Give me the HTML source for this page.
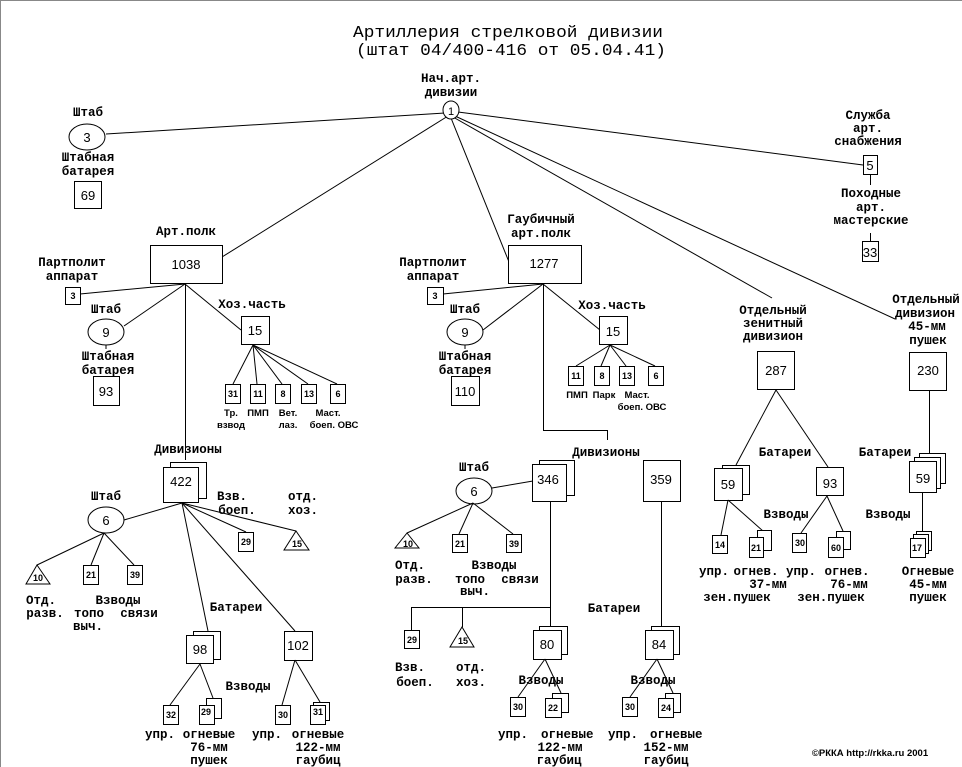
<!DOCTYPE html>
<html><head><meta charset="utf-8"><style>
html,body{margin:0;padding:0;background:#fff}
svg{display:block}
.l{font:bold 12.5px "Liberation Mono","DejaVu Sans Mono",monospace;text-anchor:middle;fill:#000}
.n{font:13px "Liberation Sans",sans-serif;text-anchor:middle;fill:#000}
.s{font:bold 9px "Liberation Sans",sans-serif;text-anchor:middle;fill:#000}
.t{font:17px "Liberation Mono",monospace;text-anchor:middle;fill:#000}
rect,ellipse,circle,polygon{fill:#fff;stroke:#000;stroke-width:1}
line,polyline{stroke:#000;stroke-width:1;fill:none}
</style></head><body>
<svg width="962" height="767" viewBox="0 0 962 767" xmlns="http://www.w3.org/2000/svg">
<rect x="0" y="0" width="962" height="767" style="fill:#fff;stroke:none"/>
<line x1="0" y1="0.5" x2="962" y2="0.5" style="stroke:#888"/>
<line x1="0.5" y1="0" x2="0.5" y2="767" style="stroke:#888"/>

<text class="t" x="508" y="37" textLength="310" lengthAdjust="spacingAndGlyphs">Артиллерия стрелковой дивизии</text>
<text class="t" x="511" y="55" textLength="310" lengthAdjust="spacingAndGlyphs">(штат 04/400-416 от 05.04.41)</text>

<line x1="445" y1="113" x2="106" y2="134"/>
<line x1="458" y1="112" x2="863" y2="165"/>
<line x1="448" y1="116" x2="222" y2="257"/>
<line x1="451" y1="118" x2="509" y2="262"/>
<line x1="453" y1="117" x2="772" y2="298"/>
<line x1="455" y1="116" x2="895" y2="319"/>

<text class="l" x="451" y="82">Нач.арт.</text>
<text class="l" x="451" y="96">дивизии</text>
<ellipse cx="451" cy="110" rx="8" ry="9"/>
<text class="n" x="451" y="115" style="font-size:11px">1</text>

<text class="l" x="88" y="116">Штаб</text>
<ellipse cx="87" cy="137" rx="18" ry="13"/>
<text class="n" x="87" y="142">3</text>
<text class="l" x="88" y="161">Штабная</text>
<text class="l" x="88" y="175">батарея</text>
<rect x="74.5" y="181.5" width="27" height="27"/>
<text class="n" x="88" y="200">69</text>

<text class="l" x="868" y="119">Служба</text>
<text class="l" x="868" y="132">арт.</text>
<text class="l" x="868" y="145">снабжения</text>
<rect x="863.5" y="155.5" width="14" height="19"/>
<text class="n" x="870" y="170">5</text>
<line x1="870.5" y1="175" x2="870.5" y2="185"/>
<text class="l" x="871" y="197">Походные</text>
<text class="l" x="871" y="211">арт.</text>
<text class="l" x="871" y="224">мастерские</text>
<line x1="870.5" y1="233" x2="870.5" y2="241"/>
<rect x="862.5" y="241.5" width="16" height="20"/>
<text class="n" x="870" y="257">33</text>

<text class="l" x="186" y="235">Арт.полк</text>
<rect x="150.5" y="245.5" width="72" height="38"/>
<text class="n" x="186" y="269">1038</text>
<text class="l" x="72" y="266">Партполит</text>
<text class="l" x="72" y="280">аппарат</text>
<rect x="65.5" y="287.5" width="15" height="17"/>
<text class="s" x="73" y="299">3</text>
<line x1="80" y1="294" x2="185" y2="284"/>
<text class="l" x="106" y="313">Штаб</text>
<ellipse cx="106" cy="332" rx="18" ry="13"/>
<text class="n" x="106" y="337">9</text>
<line x1="124" y1="326" x2="185" y2="284"/>
<line x1="106" y1="345" x2="106" y2="349"/>
<text class="l" x="108" y="360">Штабная</text>
<text class="l" x="108" y="374">батарея</text>
<rect x="93.5" y="376.5" width="26" height="29"/>
<text class="n" x="106" y="396">93</text>
<text class="l" x="252" y="308">Хоз.часть</text>
<line x1="185" y1="284" x2="241" y2="330"/>
<rect x="241.5" y="316.5" width="28" height="28"/>
<text class="n" x="255" y="335">15</text>
<line x1="253" y1="345" x2="233" y2="384"/>
<line x1="253" y1="345" x2="257" y2="384"/>
<line x1="253" y1="345" x2="282" y2="384"/>
<line x1="253" y1="345" x2="308" y2="384"/>
<line x1="253" y1="345" x2="337" y2="384"/>
<rect x="225.5" y="384.5" width="15" height="19"/><text class="s" x="233" y="397">31</text>
<rect x="250.5" y="384.5" width="15" height="19"/><text class="s" x="258" y="397">11</text>
<rect x="275.5" y="384.5" width="15" height="19"/><text class="s" x="283" y="397">8</text>
<rect x="301.5" y="384.5" width="15" height="19"/><text class="s" x="309" y="397">13</text>
<rect x="330.5" y="384.5" width="15" height="19"/><text class="s" x="338" y="397">6</text>
<text class="s" x="231" y="416" style="font-size:9.5px">Тр.</text>
<text class="s" x="231" y="428" style="font-size:9.5px">взвод</text>
<text class="s" x="258" y="416" style="font-size:9.5px">ПМП</text>
<text class="s" x="288" y="416" style="font-size:9.5px">Вет.</text>
<text class="s" x="288" y="428" style="font-size:9.5px">лаз.</text>
<text class="s" x="328" y="416" style="font-size:9.5px">Маст.</text>
<text class="s" x="334" y="428" style="font-size:9.5px">боеп. ОВС</text>
<line x1="185.5" y1="284" x2="185.5" y2="460"/>

<text class="l" x="188" y="453">Дивизионы</text>
<rect x="170.5" y="462.5" width="36" height="36"/>
<rect x="163.5" y="467.5" width="35" height="35"/>
<text class="n" x="181" y="486">422</text>
<text class="l" x="106" y="500">Штаб</text>
<ellipse cx="106" cy="520" rx="18" ry="13"/>
<text class="n" x="106" y="525">6</text>
<line x1="124" y1="520" x2="182" y2="503"/>
<text class="l" x="232" y="500">Взв.</text>
<text class="l" x="237" y="514">боеп.</text>
<text class="l" x="303" y="500">отд.</text>
<text class="l" x="303" y="514">хоз.</text>
<line x1="182" y1="503" x2="246" y2="532"/>
<line x1="182" y1="503" x2="296" y2="531"/>
<rect x="238.5" y="532.5" width="15" height="19"/><text class="s" x="246" y="545">29</text>
<polygon points="296,531 284,550 309,550"/><text class="s" x="297" y="547">15</text>
<line x1="104" y1="533" x2="37" y2="565"/>
<line x1="104" y1="533" x2="91" y2="565"/>
<line x1="104" y1="533" x2="134" y2="565"/>
<polygon points="37,565 26,584 50,584"/><text class="s" x="38" y="581">10</text>
<rect x="83.5" y="565.5" width="15" height="19"/><text class="s" x="91" y="578">21</text>
<rect x="127.5" y="565.5" width="15" height="19"/><text class="s" x="135" y="578">39</text>
<text class="l" x="41" y="604">Отд.</text>
<text class="l" x="45" y="617">разв.</text>
<text class="l" x="118" y="604">Взводы</text>
<text class="l" x="89" y="617">топо</text>
<text class="l" x="139" y="617">связи</text>
<text class="l" x="88" y="630">выч.</text>
<line x1="182" y1="503" x2="208" y2="631"/>
<line x1="182" y1="503" x2="295" y2="631"/>
<text class="l" x="236" y="611">Батареи</text>
<rect x="193.5" y="631.5" width="27" height="28"/>
<rect x="186.5" y="635.5" width="27" height="28"/>
<text class="n" x="200" y="654">98</text>
<rect x="284.5" y="631.5" width="28" height="29"/>
<text class="n" x="298" y="650">102</text>
<text class="l" x="248" y="690">Взводы</text>
<line x1="200" y1="664" x2="170" y2="705"/>
<line x1="200" y1="664" x2="213" y2="698"/>
<rect x="163.5" y="705.5" width="15" height="19"/><text class="s" x="171" y="718">32</text>
<rect x="206.5" y="698.5" width="15" height="20"/>
<rect x="199.5" y="705.5" width="15" height="19"/><text class="s" x="206" y="715">29</text>
<line x1="295" y1="660" x2="282" y2="705"/>
<line x1="295" y1="660" x2="320" y2="702"/>
<rect x="275.5" y="705.5" width="15" height="19"/><text class="s" x="283" y="718">30</text>
<rect x="313.5" y="702.5" width="16" height="18"/>
<rect x="310.5" y="705.5" width="15" height="19"/><text class="s" x="318" y="715">31</text>
<text class="l" x="160" y="738">упр.</text>
<text class="l" x="209" y="738">огневые</text>
<text class="l" x="209" y="751">76-мм</text>
<text class="l" x="209" y="764">пушек</text>
<text class="l" x="267" y="738">упр.</text>
<text class="l" x="318" y="738">огневые</text>
<text class="l" x="318" y="751">122-мм</text>
<text class="l" x="318" y="764">гаубиц</text>

<text class="l" x="541" y="223">Гаубичный</text>
<text class="l" x="541" y="237">арт.полк</text>
<rect x="508.5" y="245.5" width="73" height="38"/>
<text class="n" x="544" y="268">1277</text>
<text class="l" x="433" y="266">Партполит</text>
<text class="l" x="433" y="280">аппарат</text>
<rect x="427.5" y="287.5" width="16" height="17"/>
<text class="s" x="435" y="299">3</text>
<line x1="443" y1="294" x2="543" y2="284"/>
<text class="l" x="465" y="313">Штаб</text>
<ellipse cx="465" cy="332" rx="18" ry="13"/>
<text class="n" x="465" y="337">9</text>
<line x1="483" y1="330" x2="543" y2="284"/>
<line x1="465" y1="345" x2="465" y2="349"/>
<text class="l" x="465" y="360">Штабная</text>
<text class="l" x="465" y="374">батарея</text>
<rect x="451.5" y="376.5" width="28" height="29"/>
<text class="n" x="465" y="396">110</text>
<text class="l" x="612" y="309">Хоз.часть</text>
<line x1="543" y1="284" x2="600" y2="330"/>
<rect x="599.5" y="316.5" width="28" height="28"/>
<text class="n" x="613" y="336">15</text>
<line x1="610" y1="345" x2="576" y2="366"/>
<line x1="610" y1="345" x2="601" y2="366"/>
<line x1="610" y1="345" x2="626" y2="366"/>
<line x1="610" y1="345" x2="655" y2="366"/>
<rect x="568.5" y="366.5" width="15" height="19"/><text class="s" x="576" y="379">11</text>
<rect x="594.5" y="366.5" width="15" height="19"/><text class="s" x="602" y="379">8</text>
<rect x="619.5" y="366.5" width="15" height="19"/><text class="s" x="627" y="379">13</text>
<rect x="648.5" y="366.5" width="15" height="19"/><text class="s" x="656" y="379">6</text>
<text class="s" x="577" y="398" style="font-size:9.5px">ПМП</text>
<text class="s" x="604" y="398" style="font-size:9.5px">Парк</text>
<text class="s" x="637" y="398" style="font-size:9.5px">Маст.</text>
<text class="s" x="642" y="410" style="font-size:9.5px">боеп. ОВС</text>
<polyline points="543.5,284 543.5,430.5 607.5,430.5 607.5,440"/>
<text class="l" x="606" y="456">Дивизионы</text>

<rect x="539.5" y="460.5" width="35" height="35"/>
<rect x="532.5" y="464.5" width="34" height="37"/>
<text class="n" x="548" y="484">346</text>
<text class="l" x="474" y="471">Штаб</text>
<ellipse cx="474" cy="491" rx="18" ry="13"/>
<text class="n" x="474" y="496">6</text>
<line x1="492" y1="488" x2="533" y2="481"/>
<line x1="473" y1="503" x2="407" y2="533"/>
<line x1="473" y1="503" x2="459" y2="534"/>
<line x1="473" y1="503" x2="513" y2="534"/>
<polygon points="407,533 395,548 419,548"/><text class="s" x="408" y="547">10</text>
<rect x="452.5" y="534.5" width="15" height="18"/><text class="s" x="460" y="547">21</text>
<rect x="506.5" y="534.5" width="15" height="18"/><text class="s" x="514" y="547">39</text>
<text class="l" x="410" y="569">Отд.</text>
<text class="l" x="414" y="583">разв.</text>
<text class="l" x="494" y="569">Взводы</text>
<text class="l" x="470" y="583">топо</text>
<text class="l" x="520" y="583">связи</text>
<text class="l" x="475" y="595">выч.</text>
<line x1="550.5" y1="502" x2="550.5" y2="630"/>
<line x1="411" y1="607.5" x2="551" y2="607.5"/>
<line x1="411.5" y1="607" x2="411.5" y2="630"/>
<line x1="462.5" y1="607" x2="462.5" y2="627"/>
<rect x="404.5" y="630.5" width="15" height="18"/><text class="s" x="412" y="643">29</text>
<polygon points="462,627 450,647 474,647"/><text class="s" x="463" y="644">15</text>
<text class="l" x="410" y="671">Взв.</text>
<text class="l" x="415" y="686">боеп.</text>
<text class="l" x="471" y="671">отд.</text>
<text class="l" x="471" y="686">хоз.</text>
<text class="l" x="614" y="612">Батареи</text>
<rect x="539.5" y="626.5" width="28" height="28"/>
<rect x="533.5" y="630.5" width="28" height="29"/>
<text class="n" x="547" y="649">80</text>
<rect x="643.5" y="460.5" width="37" height="41"/>
<text class="n" x="661" y="484">359</text>
<line x1="661.5" y1="502" x2="661.5" y2="630"/>
<rect x="651.5" y="626.5" width="28" height="28"/>
<rect x="645.5" y="630.5" width="28" height="29"/>
<text class="n" x="659" y="649">84</text>
<line x1="545" y1="659" x2="518" y2="697"/>
<line x1="545" y1="659" x2="561" y2="693"/>
<text class="l" x="541" y="684">Взводы</text>
<rect x="510.5" y="697.5" width="15" height="19"/><text class="s" x="518" y="710">30</text>
<rect x="552.5" y="693.5" width="16" height="19"/>
<rect x="545.5" y="698.5" width="16" height="19"/><text class="s" x="553" y="711">22</text>
<line x1="657" y1="659" x2="630" y2="697"/>
<line x1="657" y1="659" x2="673" y2="693"/>
<text class="l" x="653" y="684">Взводы</text>
<rect x="622.5" y="697.5" width="15" height="19"/><text class="s" x="630" y="710">30</text>
<rect x="665.5" y="693.5" width="15" height="19"/>
<rect x="658.5" y="698.5" width="15" height="19"/><text class="s" x="666" y="711">24</text>
<text class="l" x="513" y="738">упр.</text>
<text class="l" x="541" y="738" style="text-anchor:start">огневые</text>
<text class="l" x="560" y="751">122-мм</text>
<text class="l" x="559" y="764">гаубиц</text>
<text class="l" x="623" y="738">упр.</text>
<text class="l" x="650" y="738" style="text-anchor:start">огневые</text>
<text class="l" x="666" y="751">152-мм</text>
<text class="l" x="666" y="764">гаубиц</text>

<text class="l" x="773" y="314">Отдельный</text>
<text class="l" x="773" y="327">зенитный</text>
<text class="l" x="773" y="340">дивизион</text>
<rect x="757.5" y="351.5" width="37" height="38"/>
<text class="n" x="776" y="375">287</text>
<line x1="776" y1="390" x2="736" y2="465"/>
<line x1="776" y1="390" x2="828" y2="467"/>
<text class="l" x="785" y="456">Батареи</text>
<rect x="722.5" y="465.5" width="27" height="29"/>
<rect x="714.5" y="468.5" width="28" height="32"/>
<text class="n" x="728" y="489">59</text>
<rect x="816.5" y="467.5" width="27" height="28"/>
<text class="n" x="830" y="488">93</text>
<text class="l" x="786" y="518">Взводы</text>
<line x1="728" y1="500" x2="721" y2="535"/>
<line x1="728" y1="500" x2="763" y2="531"/>
<rect x="712.5" y="535.5" width="15" height="18"/><text class="s" x="720" y="548">14</text>
<rect x="757.5" y="530.5" width="14" height="20"/>
<rect x="749.5" y="537.5" width="14" height="20"/><text class="s" x="756" y="551">21</text>
<line x1="827" y1="496" x2="801" y2="533"/>
<line x1="827" y1="496" x2="843" y2="531"/>
<rect x="792.5" y="533.5" width="14" height="19"/><text class="s" x="800" y="546">30</text>
<rect x="836.5" y="531.5" width="14" height="18"/>
<rect x="828.5" y="537.5" width="15" height="20"/><text class="s" x="836" y="551">60</text>
<text class="l" x="714" y="575">упр.</text>
<text class="l" x="756" y="575">огнев.</text>
<text class="l" x="768" y="588">37-мм</text>
<text class="l" x="737" y="601">зен.пушек</text>
<text class="l" x="801" y="575">упр.</text>
<text class="l" x="847" y="575">огнев.</text>
<text class="l" x="849" y="588">76-мм</text>
<text class="l" x="831" y="601">зен.пушек</text>

<text class="l" x="926" y="303">Отдельный</text>
<text class="l" x="925" y="317">дивизион</text>
<text class="l" x="927" y="330">45-мм</text>
<text class="l" x="928" y="344">пушек</text>
<rect x="909.5" y="352.5" width="37" height="38"/>
<text class="n" x="928" y="375">230</text>
<line x1="929.5" y1="390" x2="929.5" y2="454"/>
<text class="l" x="885" y="456">Батареи</text>
<rect x="919.5" y="453.5" width="26" height="30"/>
<rect x="914.5" y="457.5" width="26" height="31"/>
<rect x="909.5" y="461.5" width="27" height="31"/>
<text class="n" x="923" y="483">59</text>
<line x1="922.5" y1="493" x2="922.5" y2="532"/>
<text class="l" x="888" y="518">Взводы</text>
<rect x="916.5" y="531.5" width="15" height="19"/>
<rect x="913.5" y="534.5" width="15" height="19"/>
<rect x="910.5" y="538.5" width="15" height="19"/><text class="s" x="917" y="551">17</text>
<text class="l" x="928" y="575">Огневые</text>
<text class="l" x="928" y="588">45-мм</text>
<text class="l" x="928" y="601">пушек</text>

<text class="s" x="870" y="756" style="font-size:9.5px">©РККА http://rkka.ru 2001</text>
</svg>
</body></html>
